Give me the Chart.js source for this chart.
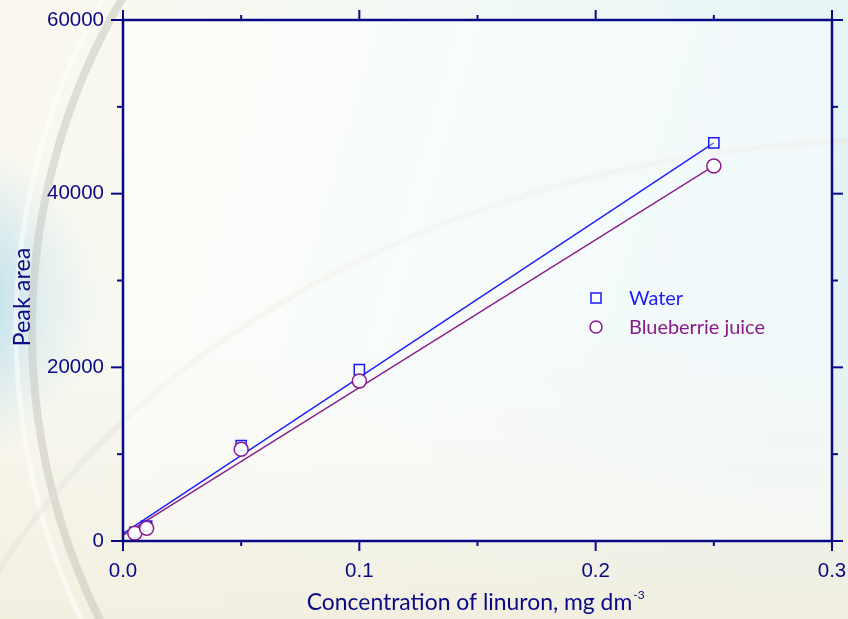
<!DOCTYPE html>
<html>
<head>
<meta charset="utf-8">
<script src="https://cdn.jsdelivr.net/npm/chart.js@4/dist/chart.umd.min.js"></script>
<style>
  html, body { margin: 0; padding: 0; background: #f6f4ea; }
  #wrap { width: 848px; height: 619px; }
</style>
</head>
<body>
<div id="wrap"><canvas id="chart" width="848" height="619"></canvas></div>
<script>
// Calibration data: linuron concentration (mg dm^-3) vs. peak area
const concentration = [0.005, 0.01, 0.05, 0.1, 0.25];
const waterArea     = [1000, 1730, 10980, 19730, 45850];
const juiceArea     = [890, 1460, 10560, 18430, 43190];

// Fitted calibration lines (end points)
const fitX          = [0, 0.25];
const waterFit      = [850, 45850];
const juiceFit      = [650, 43200];

// Axis ticks
const xTicks = [0, 0.1, 0.2, 0.3];
const yTicks = [0, 20000, 40000, 60000];
const xMinorStep = 0.05;
const yMinorStep = 10000;

const seriesNames = ['Water', 'Blueberrie juice'];
const xTitle = 'Concentration of linuron, mg dm';
const xTitleSup = '-3';
const yTitle = 'Peak area';

const NAVY = '#0a0a86';
const BLUE = '#1a1aff';
const PURPLE = '#8a1a8a';
const CASUAL = '"Lato", "Open Sans", sans-serif';

const pts = (xs, ys) => xs.map((x, i) => ({ x: x, y: ys[i] }));

// Soft presentation-style backdrop with sweeping arcs
const backdrop = {
  id: 'backdrop',
  beforeDraw(chart) {
    const { ctx, width, height, chartArea: a } = chart;
    ctx.save();
    let g = ctx.createLinearGradient(0, 0, width, height * 0.4);
    g.addColorStop(0, '#fbf8ee');
    g.addColorStop(0.55, '#f1f9f6');
    g.addColorStop(1, '#e3f3f6');
    ctx.fillStyle = g;
    ctx.fillRect(0, 0, width, height);
    // warm lower band
    g = ctx.createLinearGradient(0, height * 0.55, 0, height);
    g.addColorStop(0, 'rgba(245,240,225,0)');
    g.addColorStop(1, 'rgba(243,238,222,0.9)');
    ctx.fillStyle = g;
    ctx.fillRect(0, 0, width, height);
    // bluish glow on the left edge
    g = ctx.createRadialGradient(-70, 300, 10, -70, 300, 170);
    g.addColorStop(0, 'rgba(150,205,230,0.9)');
    g.addColorStop(1, 'rgba(190,225,240,0)');
    ctx.fillStyle = g;
    ctx.fillRect(0, 0, width, height);
    // grey sweeping arc
    ctx.beginPath();
    ctx.ellipse(700, 330, 668, 660, 0, Math.PI * 0.84, Math.PI * 1.33);
    ctx.strokeStyle = 'rgba(190,190,180,0.45)';
    ctx.lineWidth = 8;
    ctx.stroke();
    ctx.beginPath();
    ctx.ellipse(700, 330, 684, 680, 0, Math.PI * 0.84, Math.PI * 1.33);
    ctx.strokeStyle = 'rgba(255,255,255,0.5)';
    ctx.lineWidth = 5;
    ctx.stroke();
    // faint highlight band across the middle
    ctx.beginPath();
    ctx.ellipse(900, 900, 1000, 760, 0, Math.PI * 1.05, Math.PI * 1.6);
    ctx.strokeStyle = 'rgba(225,225,215,0.4)';
    ctx.lineWidth = 6;
    ctx.stroke();
    // plot area lightened
    ctx.fillStyle = 'rgba(255,255,255,0.45)';
    ctx.fillRect(a.left, a.top, a.right - a.left, a.bottom - a.top);
    ctx.restore();
  }
};

function fitFont(ctx, text, family, weight, target, base) {
  ctx.font = `${weight} ${base}px ${family}`;
  const w = ctx.measureText(text).width;
  const size = Math.max(10, Math.min(base * 1.4, base * target / w));
  return `${weight} ${size.toFixed(1)}px ${family}`;
}

// Frame, inner/outer tick marks, axis titles and legend
const frame = {
  id: 'frame',
  afterDraw(chart) {
    const { ctx, chartArea: a, scales: { x, y } } = chart;
    ctx.save();
    ctx.strokeStyle = NAVY;
    ctx.lineWidth = 2.5;
    ctx.lineCap = 'butt';
    ctx.strokeRect(a.left, a.top, a.right - a.left, a.bottom - a.top);

    const seg = (x1, y1, x2, y2) => { ctx.beginPath(); ctx.moveTo(x1, y1); ctx.lineTo(x2, y2); ctx.stroke(); };
    ctx.lineWidth = 2;
    for (let v = x.min; v <= x.max + 1e-9; v += xMinorStep) {
      const px = x.getPixelForValue(v);
      const major = xTicks.some(t => Math.abs(t - v) < 1e-9);
      const L = major ? 10 : 5;
      seg(px, a.bottom, px, a.bottom + L);
      seg(px, a.top, px, a.top - L);
    }
    for (let v = y.min; v <= y.max + 1e-6; v += yMinorStep) {
      const py = y.getPixelForValue(v);
      const major = yTicks.some(t => Math.abs(t - v) < 1e-6);
      seg(a.left, py, a.left - (major ? 12 : 6), py);
      seg(a.right, py, a.right + (major ? 11 : 6), py);
    }

    // axis titles
    ctx.fillStyle = NAVY;
    ctx.textBaseline = 'alphabetic';
    ctx.font = fitFont(ctx, xTitle, CASUAL, 'normal', 326, 19);
    const tw = ctx.measureText(xTitle).width;
    const cx = (a.left + a.right) / 2 - 2;
    ctx.textAlign = 'left';
    const x0 = cx - (tw + 12) / 2;
    ctx.fillText(xTitle, x0, 610);
    ctx.font = `normal 12px ${CASUAL}`;
    ctx.fillText(xTitleSup, x0 + tw + 1, 599);

    ctx.save();
    ctx.translate(30, 297);
    ctx.rotate(-Math.PI / 2);
    ctx.textAlign = 'center';
    ctx.font = fitFont(ctx, yTitle, CASUAL, 'normal', 99, 19);
    ctx.fillText(yTitle, 0, 0);
    ctx.restore();

    // legend
    const lx = 596, ly = [298, 327], tx = 629;
    ctx.lineWidth = 1.5;
    ctx.strokeStyle = BLUE;
    ctx.fillStyle = 'rgba(255,255,255,0.5)';
    ctx.fillRect(lx - 5, ly[0] - 5, 10, 10);
    ctx.strokeRect(lx - 5, ly[0] - 5, 10, 10);
    ctx.strokeStyle = PURPLE;
    ctx.beginPath();
    ctx.arc(lx, ly[1], 6, 0, Math.PI * 2);
    ctx.fillStyle = 'rgba(255,255,255,0.9)';
    ctx.fill();
    ctx.stroke();
    ctx.textAlign = 'left';
    ctx.textBaseline = 'middle';
    ctx.fillStyle = BLUE;
    ctx.font = fitFont(ctx, seriesNames[0], CASUAL, 'normal', 54, 18);
    ctx.fillText(seriesNames[0], tx, ly[0] + 1);
    ctx.fillStyle = PURPLE;
    ctx.font = fitFont(ctx, seriesNames[1], CASUAL, 'normal', 136, 18);
    ctx.fillText(seriesNames[1], tx, ly[1] + 1);
    ctx.restore();
  }
};

new Chart(document.getElementById('chart'), {
  type: 'scatter',
  data: {
    datasets: [
      {
        label: seriesNames[1],
        data: pts(concentration, juiceArea),
        pointStyle: 'circle',
        pointRadius: 7,
        pointHoverRadius: 7,
        borderColor: PURPLE,
        backgroundColor: 'rgba(255,255,255,0.9)',
        borderWidth: 1.5,
        order: 0
      },
      {
        label: seriesNames[0],
        data: pts(concentration, waterArea),
        pointStyle: 'rect',
        pointRadius: 7.2,
        pointHoverRadius: 7.2,
        borderColor: BLUE,
        backgroundColor: 'rgba(255,255,255,0.35)',
        borderWidth: 1.5,
        order: 1
      },
      {
        label: seriesNames[0] + ' fit',
        data: pts(fitX, waterFit),
        showLine: true,
        pointRadius: 0,
        borderColor: BLUE,
        borderWidth: 1.3,
        order: 2
      },
      {
        label: seriesNames[1] + ' fit',
        data: pts(fitX, juiceFit),
        showLine: true,
        pointRadius: 0,
        borderColor: PURPLE,
        borderWidth: 1.3,
        order: 3
      }
    ]
  },
  options: {
    responsive: false,
    animation: false,
    layout: { padding: { left: 0, top: 20, right: 16, bottom: 0 } },
    plugins: { legend: { display: false }, tooltip: { enabled: false } },
    scales: {
      x: {
        type: 'linear',
        min: 0, max: 0.3,
        grid: { display: false, drawTicks: false },
        border: { display: false },
        afterBuildTicks: s => { s.ticks = xTicks.map(v => ({ value: v })); },
        afterFit: s => { s.height = 78; s.paddingLeft = 0; s.paddingRight = 0; },
        ticks: {
          padding: 18,
          color: NAVY,
          font: { family: '"Liberation Sans", Arial, sans-serif', size: 20.5 },
          callback: v => Number(v).toFixed(1)
        }
      },
      y: {
        type: 'linear',
        min: 0, max: 60000,
        grid: { display: false, drawTicks: false },
        border: { display: false },
        afterBuildTicks: s => { s.ticks = yTicks.map(v => ({ value: v })); },
        afterFit: s => { s.width = 123; s.paddingTop = 0; s.paddingBottom = 0; },
        ticks: {
          padding: 19,
          color: NAVY,
          font: { family: '"Liberation Sans", Arial, sans-serif', size: 20.5 },
          callback: v => String(v)
        }
      }
    }
  },
  plugins: [backdrop, frame]
});
</script>
</body>
</html>
